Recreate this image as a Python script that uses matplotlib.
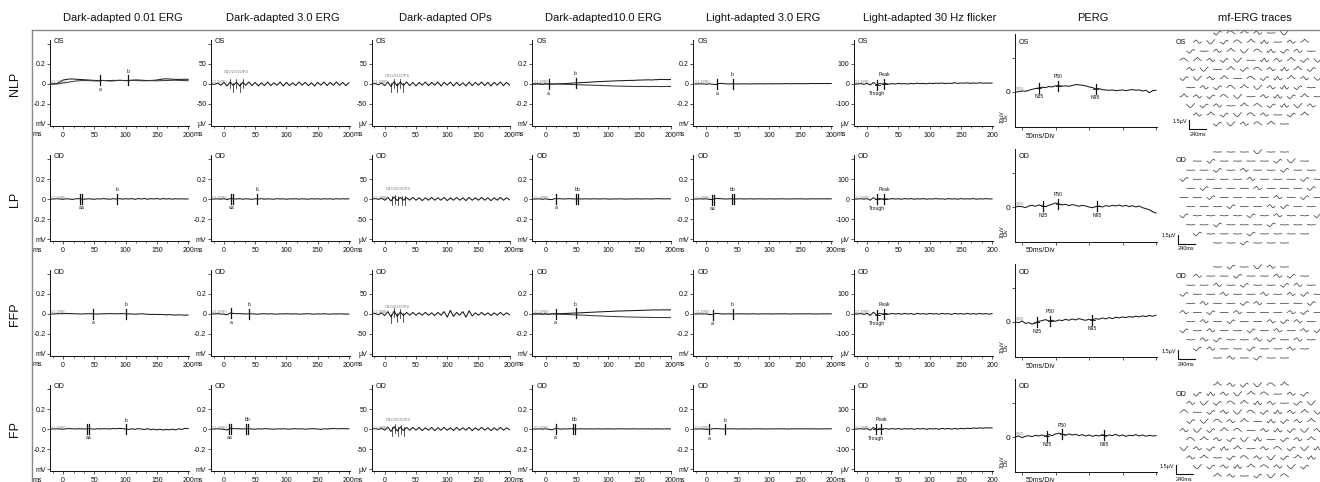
import numpy as np
import matplotlib
matplotlib.use("Agg")
import matplotlib.pyplot as plt
from matplotlib.lines import Line2D
from matplotlib.ticker import MultipleLocator

plt.rcParams['font.family'] = ['Liberation Sans', 'DejaVu Sans']

W, H = 1320, 482

# ---------------- labels ----------------
col_titles = ["Dark-adapted 0.01 ERG", "Dark-adapted 3.0 ERG", "Dark-adapted OPs",
              "Dark-adapted10.0 ERG", "Light-adapted 3.0 ERG", "Light-adapted 30 Hz flicker",
              "PERG", "mf-ERG traces"]
row_labels = ["NLP", "LP", "FFP", "FP"]
eye_labels = ["OS", "OD", "OD", "OD"]
ms_ticks = [0, 50, 100, 150, 200]
ms_tick_labels = ["0", "50", "100", "150", "200"]
mv_ticks = [-0.4, -0.2, 0, 0.2, 0.4]
mv_tick_labels = ["mV", "-0.2", "0", "0.2", ""]
uv50_ticks = [-100, -50, 0, 50, 100]
uv50_tick_labels = ["µV", "-50", "0", "50", ""]
uv100_ticks = [-200, -100, 0, 100, 200]
uv100_tick_labels = ["µV", "-100", "0", "100", ""]
perg_ticks = [0, 10]
perg_tick_labels = ["0", ""]

# ---------------- traces (time -20..200 ms, evenly sampled) ----------------
# Dark-adapted 0.01 ERG (mV)
da001_nlp_1 = [0, 0, 0.005, 0.02, 0.04, 0.045, 0.05, 0.05, 0.048, 0.046, 0.044, 0.042, 0.04, 0.038, 0.036,
               0.035, 0.036, 0.035, 0.034, 0.035, 0.036, 0.036, 0.037, 0.036, 0.035, 0.036, 0.038, 0.04, 0.04,
               0.038, 0.036, 0.035, 0.035, 0.037, 0.04, 0.045, 0.05, 0.052, 0.05, 0.048, 0.046, 0.045, 0.047,
               0.048, 0.046]
da001_nlp_2 = [0, 0, 0, 0.005, 0.01, 0.015, 0.02, 0.025, 0.03, 0.032, 0.034, 0.035, 0.034, 0.033, 0.031,
               0.03, 0.032, 0.035, 0.033, 0.03, 0.031, 0.034, 0.036, 0.035, 0.033, 0.034, 0.035, 0.036, 0.034,
               0.033, 0.032, 0.033, 0.034, 0.033, 0.032, 0.033, 0.034, 0.035, 0.036, 0.037, 0.038, 0.036,
               0.035, 0.034, 0.033]
da001_lp = [0, 0, 0.003, 0, -0.003, 0.002, 0, -0.004, 0.002, 0.003, 0, -0.002, 0.003, 0, -0.003, 0.002, 0,
            0.004, 0, -0.002, 0.003, 0, 0.004, -0.002, 0.003, 0, 0.004, -0.003, 0.004, 0, 0.005, -0.003, 0.004,
            0, 0.005, -0.002, 0.004, 0, 0.003, -0.002, 0.003, 0, 0.002, 0, 0.001]
da001_ffp = [0, 0, 0.002, 0.004, 0.003, 0.005, 0.004, 0.003, 0.002, 0.001, 0, 0.002, 0.003, 0.002, 0.001, 0,
             0.001, 0.002, 0.003, 0.004, 0.003, 0.002, 0.003, 0.004, 0.002, 0.001, 0, -0.002, 0, 0.002, 0,
             -0.003, -0.004, -0.003, -0.005, -0.004, -0.006, -0.008, -0.006, -0.009, -0.01, -0.008, -0.01,
             -0.012, -0.01]
da001_fp = [0, 0, 0.002, 0, -0.002, 0.003, 0.004, 0.002, 0, 0.003, 0.002, 0, 0.004, 0.002, -0.002, 0.003, 0,
            0.004, 0.002, 0, 0.005, 0.003, 0.006, 0.004, 0, -0.004, 0.002, -0.003, 0.004, 0, -0.005, 0.003,
            -0.006, -0.002, -0.008, -0.003, -0.01, -0.004, -0.008, -0.002, -0.009, 0.002, -0.004, 0.006, 0.004]

# Dark-adapted 3.0 ERG (first row in µV, others mV)
da30_nlp = [0, -1, 2, -3, 4, -5, 5, -4, 5, -5, 4, -3, 5, -4, 4, -5, 3, -4, 5, -4, 3, -3, 5, -5, 4, -4, 3, -4,
            5, -3, 4, -4, 3, -5, 4, -3, 5, -4, 4, -3, 5, -3, 4, -4, 3]
da30_lp = [0, 0, 0.002, -0.002, 0.003, -0.006, 0.004, 0.002, 0, 0.003, -0.002, 0.002, 0, -0.003, 0.002, 0,
           0.003, -0.002, 0.002, 0, -0.002, 0.003, 0, 0.002, -0.003, 0.002, 0, 0.003, -0.002, 0.002, 0, -0.002,
           0.003, 0, 0.002, -0.002, 0.003, 0, 0.002, -0.002, 0.003, 0, 0.002, 0, 0.002]
da30_ffp = [0, 0, 0.003, 0, -0.002, -0.008, 0.01, 0.006, 0.003, 0.004, 0.002, 0, 0.003, 0.002, 0, -0.002,
            0.002, 0.003, 0, 0.002, 0, -0.002, 0.002, 0, 0.003, 0.001, 0, 0.002, -0.002, 0, 0.002, 0.003, 0,
            -0.002, 0.002, 0, 0.003, 0, -0.002, 0.002, 0, 0.002, 0, -0.001, 0]
da30_fp = [0, 0, 0.002, 0, -0.004, -0.01, 0.006, 0.004, 0.002, 0.003, 0, 0.002, 0.003, 0, -0.002, 0.002, 0,
           0.003, 0.002, 0, -0.002, 0.002, 0, 0.003, 0, -0.002, 0.002, 0.003, 0, 0.002, -0.002, 0, 0.003,
           0.002, 0, -0.003, 0.002, 0, 0.003, 0.005, 0.003, 0.002, 0.004, 0.003, 0.002]

# Dark-adapted OPs (µV)
ops_nlp = [0, 1, -2, 3, -4, 5, -6, 6, -5, 5, -4, 5, -4, 4, -5, 4, -3, 5, -4, 4, -3, 5, -5, 4, -3, 5, -5, 4,
           -4, 3, -5, 5, -4, 4, -3, 5, -4, 4, -5, 4, -3, 5, -4, 4, -3]
ops_lp = [0, 1, -1, 2, -3, 4, -5, 5, -4, 4, -3, 3, -3, 4, -3, 3, -4, 3, -3, 4, -3, 3, -3, 4, -4, 3, -3, 4,
          -3, 3, -4, 4, -3, 3, -3, 4, -3, 3, -4, 3, -3, 4, -3, 3, -2]
ops_ffp = [0, 1, -2, 3, -4, 6, -7, 7, -6, 5, -4, 4, -3, 4, -3, 3, -3, 4, -3, 3, -4, 4, -3, 6, -8, 9, -6, 4,
           -3, 6, -8, 8, -5, 3, -3, 4, -3, 3, -4, 3, -3, 4, -3, 3, -2]
ops_fp = [0, 1, -1, 2, -3, 5, -6, 6, -5, 5, -4, 4, -3, 4, -3, 4, -4, 3, -3, 4, -4, 3, -3, 4, -3, 3, -4, 4,
          -3, 3, -3, 4, -4, 3, -3, 4, -3, 3, -4, 3, -3, 4, -3, 3, -2]

# Dark-adapted 10.0 ERG (mV)
da10_nlp_1 = [0, 0, 0.002, -0.004, 0.003, -0.002, 0.002, 0, 0.003, 0.002, 0.004, 0.006, 0.008, 0.01, 0.012,
              0.013, 0.015, 0.016, 0.018, 0.02, 0.022, 0.024, 0.025, 0.027, 0.028, 0.029, 0.031, 0.032, 0.033,
              0.034, 0.035, 0.036, 0.036, 0.038, 0.039, 0.04, 0.041, 0.042, 0.04, 0.043, 0.044, 0.046, 0.045,
              0.044, 0.045]
da10_nlp_2 = [0, 0, 0.002, -0.004, 0.003, -0.003, 0, -0.002, 0, -0.002, -0.003, -0.004, -0.005, -0.006,
              -0.007, -0.008, -0.009, -0.01, -0.011, -0.012, -0.013, -0.014, -0.015, -0.016, -0.018, -0.019,
              -0.02, -0.021, -0.022, -0.022, -0.023, -0.024, -0.024, -0.025, -0.025, -0.024, -0.025, -0.026,
              -0.025, -0.024, -0.025, -0.026, -0.025, -0.024, -0.025]
da10_lp = [0, 0, 0.002, -0.003, 0.002, -0.004, -0.006, 0.004, 0.003, 0.002, 0, 0.002, 0.003, 0, 0.002, 0.001,
           0, 0.002, 0, 0.001, 0.002, 0, 0.001, 0.002, 0, -0.001, 0.001, 0, 0.002, 0, -0.001, 0.001, 0, 0.002,
           0.001, 0, 0.002, 0.001, 0, 0.002, 0.003, 0.002, 0.001, 0.002, 0.001]
da10_ffp_1 = [0, 0, 0.002, -0.003, 0.002, -0.004, 0.003, 0.002, 0.003, 0.004, 0.005, 0.006, 0.008, 0.009,
              0.01, 0.012, 0.013, 0.015, 0.016, 0.018, 0.019, 0.021, 0.022, 0.024, 0.025, 0.026, 0.028, 0.029,
              0.03, 0.031, 0.032, 0.033, 0.034, 0.035, 0.036, 0.037, 0.038, 0.039, 0.04, 0.041, 0.04, 0.042,
              0.041, 0.042, 0.041]
da10_ffp_2 = [0, 0, 0.002, -0.003, 0.002, -0.004, 0.001, -0.001, -0.002, -0.003, -0.004, -0.005, -0.006,
              -0.008, -0.009, -0.01, -0.012, -0.013, -0.015, -0.016, -0.018, -0.019, -0.02, -0.022, -0.023,
              -0.024, -0.025, -0.026, -0.027, -0.028, -0.029, -0.03, -0.031, -0.031, -0.032, -0.033, -0.033,
              -0.034, -0.034, -0.035, -0.035, -0.036, -0.035, -0.036, -0.035]
da10_fp = [0, 0, 0.002, -0.002, 0.003, -0.003, -0.008, 0.004, 0.003, -0.002, 0.002, 0, 0.003, 0.001, 0, 0.002,
           0.001, 0, 0.002, 0, 0.001, 0.002, 0, 0.001, 0.002, 0.001, 0, 0.002, 0.001, 0.002, 0, 0.001, 0.002,
           0.001, 0, 0.002, 0.001, 0.002, 0, 0.001, 0.002, 0, 0.001, 0.002, 0.001]

# Light-adapted 3.0 ERG (mV)
la30_nlp = [0, 0, 0.002, 0, -0.002, 0.002, -0.003, -0.005, 0.004, 0.006, 0.002, 0, 0.002, 0.001, 0, 0.002,
            0.001, 0.002, 0, 0.002, 0.001, 0.003, 0.001, 0.002, 0.003, 0.001, 0.002, 0.003, 0.002, 0.003,
            0.004, 0.002, 0.003, 0.004, 0.003, 0.004, 0.003, 0.004, 0.005, 0.004, 0.005, 0.004, 0.005, 0.004,
            0.005]
la30_lp = [0, 0, 0.002, 0, 0.002, -0.004, -0.006, 0.005, 0.004, 0.002, 0, 0.001, 0.002, 0, 0.001, 0.002, 0,
           0.001, 0.002, 0, 0.001, 0.002, 0.001, 0, 0.002, 0.001, 0, 0.001, 0.002, 0.001, 0, 0.001, 0.002,
           0.001, 0.002, 0.001, 0, 0.001, 0.002, 0.001, 0.002, 0.001, 0.002, 0.001, 0.002]
la30_ffp = [0, 0, 0.002, 0, 0.001, -0.005, -0.007, 0.006, 0.004, 0.001, 0, 0.002, 0.001, 0, 0.002, 0.001,
            0.002, 0, 0.001, 0.002, 0.001, 0, 0.002, 0.001, 0.002, 0, 0.001, 0.002, 0.001, 0.002, 0.001, 0,
            0.001, 0.002, 0.001, 0.002, 0.001, 0.002, 0.001, 0, 0.001, 0.002, 0.001, 0.002, 0.001]
la30_fp = [0, 0, 0.002, 0, -0.003, -0.004, 0.002, 0.004, 0.003, 0.001, 0, 0.002, 0.001, 0.002, 0, 0.001,
           0.002, 0.001, 0, 0.002, 0.001, 0.002, 0.001, 0, 0.001, 0.002, 0.001, 0.002, 0.001, 0.002, 0, 0.001,
           0.002, 0.001, 0.002, 0.001, 0.002, 0.001, 0.002, 0.001, 0, 0.001, 0.002, 0.001, 0.002]

# Light-adapted 30 Hz flicker (µV)
flk_nlp = [0, 0, 2, -2, 3, -5, 8, -4, 2, 0, 2, -1, 2, 0, 3, 1, 2, 0, 3, 1, 4, 2, 3, 1, 4, 2, 4, 3, 5, 2, 4, 3,
           6, 3, 5, 4, 6, 3, 5, 4, 6, 4, 5, 4, 5]
flk_lp = [0, 0, 2, -1, 2, -6, 7, -3, 2, 0, 1, -1, 2, 0, 1, -1, 2, 0, 2, -1, 1, 0, 2, -1, 1, 0, 2, 0, 1, -1, 2,
          0, 1, -1, 2, 0, 1, 0, 2, -1, 1, 0, 2, 0, 1]
flk_ffp = [0, 0, 2, -2, 3, -7, 9, -4, 3, 0, 2, -1, 3, 0, 2, -1, 3, 0, 2, -2, 3, 0, 2, -1, 3, 0, 2, -1, 3, 0, 2,
           -2, 3, 0, 2, -1, 3, 0, 2, -1, 3, 0, 2, -1, 2]
flk_fp = [0, 0, 2, -1, 2, -6, 8, -3, 2, 0, 2, -1, 2, 0, 2, -1, 2, 0, 2, -1, 2, 0, 2, -1, 2, 0, 2, -1, 3, 0, 3,
          -1, 3, 0, 3, 1, 4, 2, 5, 3, 6, 4, 6, 5, 6]

# PERG (µV, time -10..200 ms)
perg_nlp = [0, 0.1, 0.3, 0.2, 0.5, 0.8, 1.0, 1.2, 1.4, 1.3, 1.6, 1.5, 1.8, 1.9, 1.7, 1.8, 1.7, 1.9, 2.2, 2.1,
            2.0, 1.8, 1.5, 1.3, 0.9, 1.0, 0.7, 0.6, 0.5, 0.6, 0.4, 0.5, 0.6, 0.4, 0.6, 0.7, 0.5, 0.6, 0.3, 0.5,
            -0.2, 0.4, 0.5]
perg_lp = [0, 0.2, 0.1, -0.2, 0.3, 0.5, 0.2, 0.6, 0.3, 0.1, 0.5, 0.8, 1.2, 0.9, 0.6, 0.8, 0.4, 0.7, 0.5, 0.2,
           0.5, 0.3, 0.0, -0.2, 0.1, 0.3, 0.0, 0.4, 0.2, 0.5, 0.3, 0.6, 0.2, 0.5, 0.1, 0.4, 0.0, 0.3, -0.2,
           -0.5, -0.8, -1.4, -1.8]
perg_ffp = [0, -0.2, 0.3, -0.4, -0.2, -0.6, -0.3, 0.2, 0.4, 0.7, 0.3, 0.5, 0.2, 0.6, 0.4, 0.8, 0.5, 0.9, 0.6,
            1.0, 0.7, 0.5, 0.8, 0.6, 1.0, 0.8, 1.2, 0.9, 1.3, 1.0, 1.4, 1.2, 1.5, 1.3, 1.6, 1.4, 1.7, 1.5, 1.8,
            1.6, 1.9, 1.7, 2.0]
perg_fp = [0, 0.3, -0.2, 0.2, 0.4, 0.1, 0.5, 0.3, 0.6, 0.2, 0.7, 0.4, 0.9, 1.1, 0.8, 0.5, 0.9, 0.6, 0.8, 0.4,
           0.7, 0.3, 0.6, 0.2, 0.5, 0.3, 0.7, 0.2, 0.6, 0.4, 0.8, 0.3, 0.6, 0.2, 0.5, 0.4, 0.7, 0.3, 0.6, 0.2,
           0.5, 0.3, 0.4]

# ---------------- units & peak markers (label, ms) ----------------
da001_units = ["mV", "mV", "mV", "mV"]
da30_units = ["uV50", "mV", "mV", "mV"]
ops_units = ["uV50", "uV50", "uV50", "uV50"]
da10_units = ["mV", "mV", "mV", "mV"]
la30_units = ["mV", "mV", "mV", "mV"]
flk_units = ["uV100", "uV100", "uV100", "uV100"]

da001_marks = [[("a", 59), ("b", 104)], [("aa", 29), ("b", 86)], [("a", 48), ("b", 101)], [("aa", 40), ("b", 101)]]
da30_marks = [[("OP", 10)], [("aa", 13), ("b", 53)], [("a", 11), ("b", 40)], [("aa", 9), ("bb", 37)]]
ops_marks = [[("OP", 10)], [("OP", 12)], [("OP", 10)], [("OP", 11)]]
da10_marks = [[("a", 5), ("b", 48)], [("a", 17), ("bb", 51)], [("a", 16), ("b", 48)], [("a", 16), ("bb", 46)]]
la30_marks = [[("a", 17), ("b", 42)], [("aa", 10), ("bb", 42)], [("a", 10), ("b", 42)], [("a", 5), ("b", 30)]]
flk_marks = [[("Trough", 16), ("Peak", 27)], [("Trough", 16), ("Peak", 27)],
             [("Trough", 16), ("Peak", 27)], [("Trough", 14), ("Peak", 22)]]
perg_marks = [[("N35", 25), ("P50", 54), ("N95", 110)], [("N35", 32), ("P50", 54), ("N95", 112)],
              [("N35", 22), ("P50", 42), ("N95", 105)], [("N35", 37), ("P50", 60), ("N95", 122)]]

# ---------------- mf-ERG ----------------
mf_row_counts = [6, 9, 10, 11, 10, 11, 10, 11, 10, 9, 6]
mf_templates = [
    [0, 0.15, 0.35, 0.15, -0.2, -0.15, 0.05],
    [0, -0.15, -0.35, -0.15, 0.15, 0.3, 0.15],
    [0, 0.05, 0.25, 0.5, 0.25, 0.05, 0],
    [0.25, 0, -0.25, -0.3, -0.1, 0.2, 0.4],
    [0, 0.03, 0, -0.03, 0, 0.03, 0],
    [0, 0.2, 0.35, 0.35, 0.2, 0, -0.15],
    [0, -0.25, 0.1, 0.35, -0.1, -0.25, 0],
]
mf_idx_nlp = "152043" "031526402" "1402356104" "52013460213" "0342150621" "13024516203" "4015230614" \
             "20153406124" "3104251630" "021350412" "130524"
mf_idx_lp = "444344" "414444134" "4414044144" "14444044414" "4144404441" "44144440414" "4441440144" \
            "14444140441" "4414441444" "144414444" "441444"
mf_idx_ffp = "414304" "044144014" "4404144104" "14404404014" "4044104441" "04140444014" "4041440104" \
             "14044140401" "4014401404" "104414404" "404144"
mf_idx_fp = "201352" "160325401" "0315260413" "24103516023" "1350246102" "03125406130" "5201364102" \
            "30162405136" "0241503126" "310625031" "204135"

# ---------------- helpers ----------------
fig = plt.figure(figsize=(W / 100, H / 100), dpi=100)


def px_axes(x0, ytop, x1, ybot):
    return fig.add_axes([x0 / W, 1 - ybot / H, (x1 - x0) / W, (ybot - ytop) / H])


scale_info = {"mV": (0.01, mv_ticks, mv_tick_labels),
              "uV50": (2.5, uv50_ticks, uv50_tick_labels),
              "uV100": (5.0, uv100_ticks, uv100_tick_labels)}

BLACK = "#111111"
GRAY = "#777777"
below_labels = ("a", "aa", "N35", "N95", "Trough")


def style(ax):
    for sp in ("top", "right"):
        ax.spines[sp].set_visible(False)
    for sp in ("left", "bottom"):
        ax.spines[sp].set_linewidth(0.7)
        ax.spines[sp].set_color(BLACK)
    ax.tick_params(length=2, width=0.5, labelsize=5, pad=1.2, colors=BLACK)
    ax.tick_params(axis="x", pad=2.6)
    ax.tick_params(which="minor", length=1.3, width=0.4)
    ax.patch.set_alpha(0)


def draw_marks(ax, t, y, marks, s, px_per_ms, cross=False):
    for lab, tm in marks:
        yv = np.interp(tm, t, y)
        if lab == "OP":
            for k in range(5):
                tt = tm + k * 5
                yy = np.interp(tt, t, y)
                ax.plot([tt, tt], [yy - 6 * s, yy + 3 * s], color=BLACK, lw=0.5)
            ax.annotate("O1O2O3OP4", (tm + 10, yv), xytext=(0, 10), textcoords="offset pixels",
                        ha="center", va="center", fontsize=3, color=GRAY)
            continue
        offs = [-1.0, 1.0] if lab in ("aa", "bb") else [0.0]
        for o in offs:
            tt = tm + o / px_per_ms
            ax.plot([tt, tt], [yv - 5 * s, yv + 5 * s], color=BLACK, lw=0.9)
        if cross:
            ax.plot([tm - 2.5 / px_per_ms, tm + 2.5 / px_per_ms], [yv, yv], color=BLACK, lw=0.6)
        below = lab in below_labels
        ax.annotate(lab, (tm, yv), xytext=(0, -9 if below else 9), textcoords="offset pixels",
                    ha="center", va="center", fontsize=3.6, color=BLACK)


# ---------------- frame, titles, row labels ----------------
fig.add_artist(Line2D([32 / W, 32 / W], [0, 1 - 30 / H], color="#888888", lw=1.0, transform=fig.transFigure))
fig.add_artist(Line2D([32 / W, 1], [1 - 30 / H, 1 - 30 / H], color="#888888", lw=1.0, transform=fig.transFigure))

title_x = [123, 283, 445, 603, 763, 930, 1093, 1255]
for tx, title in zip(title_x, col_titles):
    fig.text(tx / W, 1 - 18 / H, title, ha="center", va="center", fontsize=8, color=BLACK)

row_y0 = [84 + 115 * r for r in range(4)]
for y0, lab in zip(row_y0, row_labels):
    fig.text(15 / W, 1 - y0 / H, lab, ha="center", va="center", rotation=90, fontsize=9, color=BLACK)

# ---------------- ERG panels ----------------
erg_columns = [
    ([[da001_nlp_1, da001_nlp_2], [da001_lp], [da001_ffp], [da001_fp]], da001_units, da001_marks),
    ([[da30_nlp], [da30_lp], [da30_ffp], [da30_fp]], da30_units, da30_marks),
    ([[ops_nlp], [ops_lp], [ops_ffp], [ops_fp]], ops_units, ops_marks),
    ([[da10_nlp_1, da10_nlp_2], [da10_lp], [da10_ffp_1, da10_ffp_2], [da10_fp]], da10_units, da10_marks),
    ([[la30_nlp], [la30_lp], [la30_ffp], [la30_fp]], la30_units, la30_marks),
    ([[flk_nlp], [flk_lp], [flk_ffp], [flk_fp]], flk_units, flk_marks),
]
PX_MS = 0.625
for c, (traces, units, marks) in enumerate(erg_columns):
    xc = 50 + 160.8 * c
    for r in range(4):
        y0 = row_y0[r]
        ax = px_axes(xc, y0 - 44, xc + 138.75, y0 + 42)
        s, yt, ylabs = scale_info[units[r]]
        ax.set_xlim(-21, 201)
        ax.set_ylim(-42 * s, 44 * s)
        style(ax)
        ax.set_yticks(yt)
        ax.set_yticklabels(ylabs)
        ax.set_xticks(ms_ticks)
        ax.set_xticklabels(ms_tick_labels)
        ax.xaxis.set_minor_locator(MultipleLocator(50 / 3))
        for k, y in enumerate(traces[r]):
            t = np.linspace(-20, 200, len(y))
            ax.plot(t, y, color="#1a1a1a" if k == 0 else "#3a3a3a", lw=0.75)
        y_main = traces[r][0]
        t_main = np.linspace(-20, 200, len(y_main))
        draw_marks(ax, t_main, y_main, marks[r], s, PX_MS, cross=(c == 5))
        ax.text(-19, 1.5 * s, "1-1.1(RE)", fontsize=2.6, color=GRAY, ha="left", va="center")
        ax.annotate(eye_labels[r], (0, 1), xycoords="axes fraction", xytext=(4, -2),
                    textcoords="offset pixels", ha="left", va="center", fontsize=5.2, color=BLACK)
        ax.annotate("ms", (0, 0), xycoords="axes fraction", xytext=(-13, -9),
                    textcoords="offset pixels", ha="center", va="center", fontsize=5, color=BLACK)

# ---------------- PERG ----------------
perg_traces = [perg_nlp, perg_lp, perg_ffp, perg_fp]
PERG_PX_MS = 0.67
perg_s = 10 / 34
for r in range(4):
    y0 = row_y0[r]
    x0 = 1015
    ax = px_axes(x0, y0 - 50, x0 + 142, y0 + 43)
    ax.set_xlim(-10.5, 201.5)
    ax.set_ylim(-35 * perg_s, 58 * perg_s)
    style(ax)
    ax.set_yticks(perg_ticks)
    ax.set_yticklabels(perg_tick_labels)
    ax.tick_params(axis="y", labelsize=6)
    ax.set_xticks(ms_ticks)
    ax.set_xticklabels([])
    y = perg_traces[r]
    t = np.linspace(-10, 200, len(y))
    ax.plot(t, y, color="#1a1a1a", lw=0.75)
    draw_marks(ax, t, y, perg_marks[r], perg_s, PERG_PX_MS, cross=True)
    ax.text(-9, 0.8, "1(02)", fontsize=2.6, color=GRAY, ha="left", va="center")
    ax.annotate(eye_labels[r], (0, 1), xycoords="axes fraction", xytext=(4, -8),
                textcoords="offset pixels", ha="left", va="center", fontsize=5.2, color=BLACK)
    ax.annotate("50ms/Div", (0, 0), xycoords="axes fraction", xytext=(25, -9),
                textcoords="offset pixels", ha="center", va="center", fontsize=5, color=BLACK)
    ax.annotate("10µV\nDiv", (0, 0), xycoords="axes fraction", xytext=(-11, 10),
                textcoords="offset pixels", ha="center", va="center", fontsize=3.8, color=BLACK,
                rotation=90, linespacing=0.9)

# ---------------- mf-ERG ----------------
mf_indices = [mf_idx_nlp, mf_idx_lp, mf_idx_ffp, mf_idx_fp]
mf_top = [-51, -47, -47, -44]
mf_bar_x = [1189, 1178, 1178, 1176]
MF_PX_UV = 6.0
for r in range(4):
    y0 = row_y0[r]
    ax = px_axes(1160, y0 - 56, 1320, y0 + 56)
    ax.set_xlim(1160, 1320)
    ax.set_ylim(y0 + 56, y0 - 56)
    ax.axis("off")
    idx = mf_indices[r]
    n = 0
    for i, cnt in enumerate(mf_row_counts):
        yc = y0 + mf_top[r] + 9.1 * i
        for j in range(cnt):
            xcen = 1251 + (j - (cnt - 1) / 2) * 13.4
            tpl = mf_templates[int(idx[n % len(idx)])]
            xs = xcen + np.linspace(-4, 4, len(tpl))
            ys = yc - np.array(tpl) * MF_PX_UV
            ax.plot(xs, ys, color="#444444", lw=0.55)
            n += 1
    ax.text(1176, y0 + mf_top[r] + 9, eye_labels[r], fontsize=5.2, color=BLACK, ha="left", va="center")
    bx = mf_bar_x[r]
    ax.plot([bx, bx, bx + 17], [y0 + 36, y0 + 45, y0 + 45], color=BLACK, lw=0.8)
    ax.text(bx - 2, y0 + 37, "1.5µV", fontsize=4, color=BLACK, ha="right", va="center")
    ax.text(bx + 8.5, y0 + 50, "240ms", fontsize=4, color=BLACK, ha="center", va="center")

fig.savefig("out.png", dpi=100)
